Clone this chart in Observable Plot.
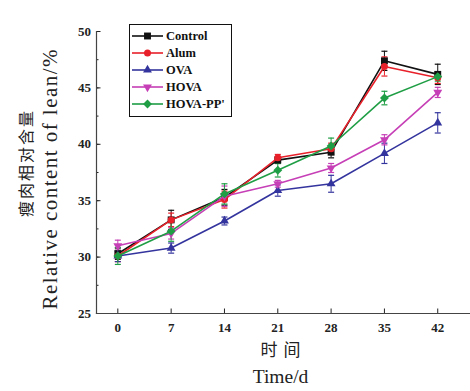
<!DOCTYPE html>
<html><head><meta charset="utf-8">
<script src="https://cdn.jsdelivr.net/npm/d3@7"></script>
<script src="https://cdn.jsdelivr.net/npm/@observablehq/plot@0.6"></script>
<style>
body{margin:0;background:#fff}
#chart{position:relative;width:470px;height:391px}
#legend{position:absolute;left:129px;top:24px;width:101px;height:91px;border:1.5px solid #111;background:#fff;font:bold 12.5px "Liberation Serif",serif;color:#111}
#legend .row{position:absolute;left:0;height:17px;display:flex;align-items:center}
#legend svg{display:block;margin-left:2px}
#legend span{margin-left:3px}
</style>
</head><body><div id="chart"><div id="legend"></div></div>
<script>
const days = [0, 7, 14, 21, 28, 35, 42];
const seriesNames = ["Control", "Alum", "OVA", "HOVA", "HOVA-PP'"];
const seriesColors = ["#111111", "#e8202a", "#34349e", "#c63fb6", "#1f9e45"];
const controlVals = [30.3, 33.3, 35.3, 38.6, 39.3, 47.4, 46.2];
const controlErr  = [0.5, 0.85, 0.7, 0.3, 0.5, 0.85, 0.9];
const alumVals    = [30.1, 33.3, 35.1, 38.8, 39.6, 46.9, 45.9];
const alumErr     = [0.5, 0.6, 0.75, 0.3, 0.5, 0.85, 0.5];
const ovaVals     = [30.1, 30.8, 33.2, 35.9, 36.5, 39.2, 41.9];
const ovaErr      = [0.5, 0.45, 0.35, 0.5, 0.75, 0.9, 0.9];
const hovaVals    = [31.0, 32.1, 35.4, 36.5, 37.9, 40.4, 44.6];
const hovaErr     = [0.5, 0.5, 0.9, 0.3, 0.4, 0.45, 0.45];
const hovappVals  = [30.1, 32.3, 35.6, 37.7, 39.85, 44.1, 46.0];
const hovappErr   = [0.75, 0.9, 0.9, 0.6, 0.7, 0.6, 0.4];
const yMajorTicks = [25, 30, 35, 40, 45, 50];
const yMinorTicks = [25, 27.5, 30, 32.5, 35, 37.5, 40, 42.5, 45, 47.5, 50];
const xTicks = days;

const allVals = [controlVals, alumVals, ovaVals, hovaVals, hovappVals];
const allErr = [controlErr, alumErr, ovaErr, hovaErr, hovappErr];

const triangleDown = {
  draw(ctx, size) {
    const y = -Math.sqrt(size / (Math.sqrt(3) * 3));
    ctx.moveTo(0, -2 * y);
    ctx.lineTo(-Math.sqrt(3) * y, y);
    ctx.lineTo(Math.sqrt(3) * y, y);
    ctx.closePath();
  }
};
const hline = {
  draw(ctx, size) {
    const w = Math.sqrt(size / Math.PI);
    ctx.moveTo(-w, 0);
    ctx.lineTo(w, 0);
  }
};
const symbols = ["square", "circle", "triangle", triangleDown, "diamond2"];
const d3Symbols = [d3.symbolSquare, d3.symbolCircle, d3.symbolTriangle, triangleDown, d3.symbolDiamond2];
const symbolR = [3.9, 3.5, 3.3, 3.3, 4.0];

const series = seriesNames.map((name, i) => days.map((d, j) => ({
  name, day: d, v: allVals[i][j], e: allErr[i][j]
})));

const marks = [];
marks.push(Plot.axisY(yMinorTicks, {anchor: "left", tickSize: -2.5, text: null, label: null}));
marks.push(Plot.axisY(yMajorTicks, {anchor: "left", tickSize: -4.5, tickPadding: 10, fontWeight: "bold", fontSize: 13, label: null}));
marks.push(Plot.axisX(xTicks, {anchor: "bottom", tickSize: -4.5, tickPadding: 14, fontWeight: "bold", fontSize: 13, label: null}));
marks.push(Plot.frame({anchor: "left", stroke: "#444", strokeWidth: 1.2}));
marks.push(Plot.frame({anchor: "bottom", stroke: "#444", strokeWidth: 1.2}));

series.forEach((data, i) => {
  const c = seriesColors[i];
  marks.push(Plot.ruleX(data, {x: "day", y1: d => d.v - d.e, y2: d => d.v + d.e, stroke: c, strokeWidth: 1}));
  marks.push(Plot.dot(data, {x: "day", y: d => d.v - d.e, symbol: hline, r: 3, stroke: c, strokeWidth: 1.2}));
  marks.push(Plot.dot(data, {x: "day", y: d => d.v + d.e, symbol: hline, r: 3, stroke: c, strokeWidth: 1.2}));
});
series.forEach((data, i) => {
  const c = seriesColors[i];
  marks.push(Plot.line(data, {x: "day", y: "v", stroke: c, strokeWidth: 1.6}));
  marks.push(Plot.dot(data, {x: "day", y: "v", symbol: symbols[i], r: symbolR[i], fill: c, stroke: "none"}));
});

marks.push(Plot.text(["瘦肉相对含量"], {frameAnchor: "left", textAnchor: "middle", rotate: -90, dx: -70, dy: -8.5, fontSize: 16, fontFamily: "Noto Sans CJK SC", fontWeight: "normal", fill: "#222"}));
marks.push(Plot.text(["Relative content of lean/%"], {frameAnchor: "left", textAnchor: "middle", rotate: -90, dx: -46, dy: 7, fontSize: 21, fontFamily: "Liberation Serif", fontWeight: "normal", fill: "#222"}));
marks.push(Plot.text(["时间"], {frameAnchor: "bottom", textAnchor: "middle", dx: -3, dy: 42, fontSize: 17, fontFamily: "Noto Sans CJK SC", fontWeight: "normal", fill: "#222"}));
marks.push(Plot.text(["Time/d"], {frameAnchor: "bottom", textAnchor: "middle", dx: -3, dy: 69, fontSize: 19.5, fontFamily: "Liberation Serif", fontWeight: "normal", fill: "#222"}));

const chart = Plot.plot({
  width: 470,
  height: 391,
  marginLeft: 96,
  marginRight: 0,
  marginTop: 31,
  marginBottom: 78,
  x: {domain: [-2.8, 46.3]},
  y: {domain: [25, 50]},
  style: {fontFamily: "Liberation Serif", fontSize: "13px", color: "#222", background: "white"},
  marks
});
const fit = {"Relative content of lean/%": 260, "瘦肉相对含量": 106, "时间": 40};
d3.select(chart).selectAll("text").each(function() {
  const L = fit[this.textContent];
  if (L) d3.select(this).attr("textLength", L).attr("lengthAdjust", "spacing");
});
document.getElementById("chart").prepend(chart);

const legend = document.getElementById("legend");
seriesNames.forEach((name, i) => {
  const row = document.createElement("div");
  row.className = "row";
  row.style.top = (2.5 + i * 17) + "px";
  const ns = "http://www.w3.org/2000/svg";
  const s = document.createElementNS(ns, "svg");
  s.setAttribute("width", 31); s.setAttribute("height", 12);
  const ln = document.createElementNS(ns, "line");
  ln.setAttribute("x1", 0); ln.setAttribute("x2", 31); ln.setAttribute("y1", 6); ln.setAttribute("y2", 6);
  ln.setAttribute("stroke", seriesColors[i]); ln.setAttribute("stroke-width", 1.6);
  s.appendChild(ln);
  const p = document.createElementNS(ns, "path");
  p.setAttribute("d", d3.symbol(d3Symbols[i], Math.PI * symbolR[i] * symbolR[i])());
  p.setAttribute("transform", "translate(15.5,6)");
  p.setAttribute("fill", seriesColors[i]);
  s.appendChild(p);
  row.appendChild(s);
  const t = document.createElement("span");
  t.textContent = name;
  row.appendChild(t);
  legend.appendChild(row);
});
</script>
</body></html>
